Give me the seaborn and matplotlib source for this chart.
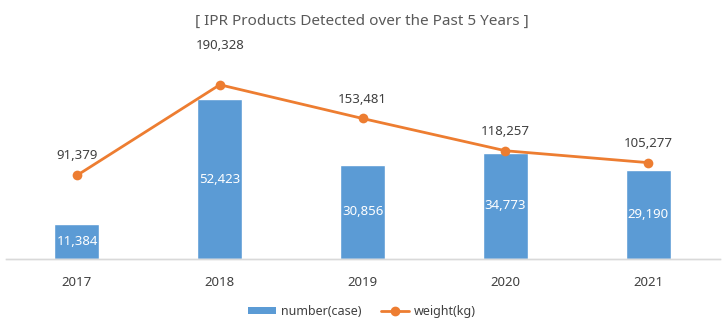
import matplotlib
matplotlib.use("Agg")
import matplotlib.pyplot as plt
import seaborn as sns
import pandas as pd
from matplotlib.patches import Patch
from matplotlib.lines import Line2D

years = ["2017", "2018", "2019", "2020", "2021"]
number_case = [11384, 52423, 30856, 34773, 29190]
weight_kg = [91379, 190328, 153481, 118257, 105277]

df = pd.DataFrame({"year": years, "number": number_case, "weight": weight_kg})

sns.set_theme(style="white")
plt.rcParams["font.family"] = ["Noto Sans", "DejaVu Sans"]

BAR = "#5B9BD5"
LINE = "#ED7D31"
TXT = "#404040"

fig = plt.figure(figsize=(7.24, 3.30), dpi=100)
ax = fig.add_axes([0.0077, 0.215, 0.9863, 0.555])

sns.barplot(data=df, x="year", y="number", color=BAR, width=0.315,
            saturation=1, ax=ax)
ax.set_ylim(0, 60000)
ax.set_xlim(-0.5, 4.5)

ax2 = ax.twinx()
sns.lineplot(data=df, x="year", y="weight", color=LINE, marker="o",
             markersize=7, markeredgewidth=0, linewidth=2.0, sort=False, ax=ax2)
ax2.set_ylim(0, 200000)
ax2.set_xlim(-0.5, 4.5)

for a in (ax, ax2):
    a.set_yticks([])
    a.set_ylabel("")
    a.set_xlabel("")
    for s in ("top", "right", "left"):
        a.spines[s].set_visible(False)
    a.spines["bottom"].set_color("#d9d9d9")
    a.spines["bottom"].set_linewidth(1.0)

ax.tick_params(axis="x", length=0, pad=12, labelsize=9.5, labelcolor=TXT)

# bar labels (centered, white)
for i, v in enumerate(number_case):
    ax.text(i, v / 2, f"{v:,}", ha="center", va="center", color="white",
            fontsize=9.5)

# line labels
for i, v in enumerate(weight_kg):
    off = 28 if i == 1 else 14
    ax2.annotate(f"{v:,}", (i, v), xytext=(0, off), textcoords="offset points",
                 ha="center", va="center", color=TXT, fontsize=9.5)

fig.text(0.5, 0.935, "[ IPR Products Detected over the Past 5 Years ]",
         ha="center", va="center", fontsize=11, color="#595959")

handles = [Patch(facecolor=BAR, edgecolor="none"),
           Line2D([0], [0], color=LINE, marker="o", markersize=6, linewidth=2.0)]
fig.legend(handles, ["number(case)", "weight(kg)"], loc="center",
           bbox_to_anchor=(0.5, 0.057), ncol=2, frameon=False, fontsize=9,
           handlelength=2.2, handleheight=0.55, columnspacing=1.6,
           labelcolor=TXT, handletextpad=0.4)

fig.savefig("out.png", dpi=100, facecolor="white")
